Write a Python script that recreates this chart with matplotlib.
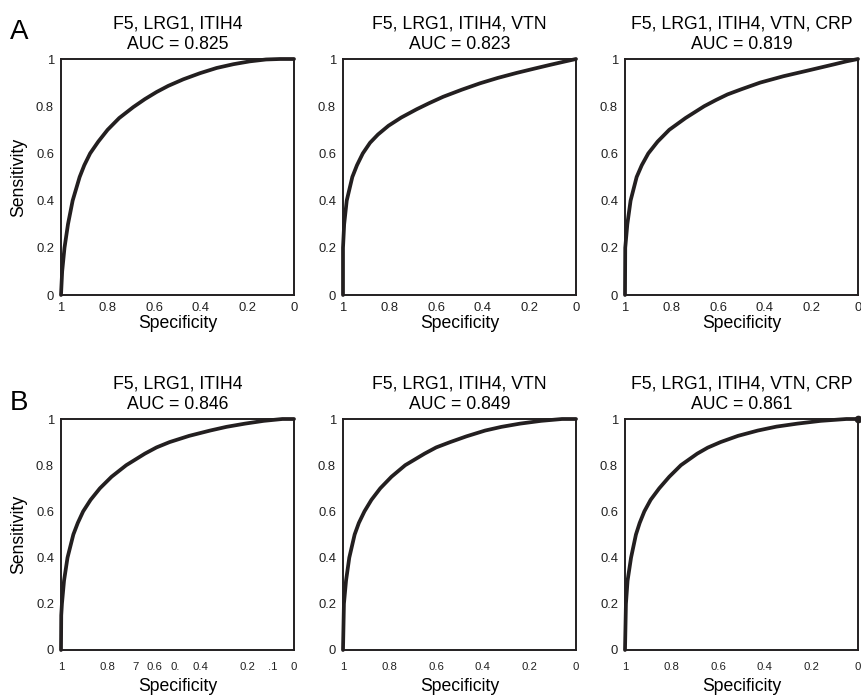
import matplotlib.pyplot as plt
import numpy as np

plt.rcParams['font.family'] = ['Liberation Sans', 'DejaVu Sans']

INK = '#231f20'

titles = ['F5, LRG1, ITIH4', 'F5, LRG1, ITIH4, VTN', 'F5, LRG1, ITIH4, VTN, CRP'] * 2
aucs = ['0.825', '0.823', '0.819', '0.846', '0.849', '0.861']

# curves as (1 - specificity, sensitivity)
fpr_a1 = [0, 0.005, 0.015, 0.03, 0.05, 0.08, 0.1, 0.125, 0.16, 0.2, 0.25, 0.31, 0.36, 0.41, 0.46,
          0.525, 0.597, 0.668, 0.74, 0.81, 0.88, 0.94, 1]
tpr_a1 = [0, 0.1, 0.2, 0.3, 0.4, 0.5, 0.55, 0.6, 0.65, 0.7, 0.75, 0.796, 0.83, 0.86, 0.886,
          0.914, 0.94, 0.962, 0.978, 0.99, 0.998, 1.0, 1]

fpr_a2 = [0, 0, 0.005, 0.016, 0.04, 0.06, 0.085, 0.116, 0.15, 0.195, 0.25, 0.316, 0.37, 0.43,
          0.51, 0.588, 0.665, 0.745, 0.82, 0.888, 0.95, 1]
tpr_a2 = [0, 0.2, 0.3, 0.4, 0.5, 0.55, 0.6, 0.645, 0.68, 0.717, 0.752, 0.787, 0.813, 0.84,
          0.87, 0.897, 0.92, 0.941, 0.959, 0.975, 0.989, 1]

fpr_a3 = [0, 0.001, 0.01, 0.024, 0.05, 0.072, 0.10, 0.14, 0.19, 0.26, 0.34, 0.39, 0.44, 0.5,
          0.58, 0.68, 0.78, 0.84, 0.90, 0.95, 1]
tpr_a3 = [0, 0.2, 0.3, 0.4, 0.5, 0.55, 0.6, 0.65, 0.7, 0.75, 0.8, 0.826, 0.85, 0.872,
          0.9, 0.927, 0.95, 0.964, 0.978, 0.99, 1]

fpr_b1 = [0, 0.001, 0.004, 0.013, 0.028, 0.053, 0.072, 0.095, 0.127, 0.167, 0.217, 0.28, 0.36,
          0.41, 0.466, 0.55, 0.64, 0.71, 0.79, 0.87, 0.95, 1]
tpr_b1 = [0, 0.15, 0.2, 0.3, 0.4, 0.5, 0.55, 0.6, 0.65, 0.7, 0.75, 0.8, 0.85,
          0.877, 0.9, 0.927, 0.95, 0.966, 0.98, 0.992, 1.0, 1]

fpr_b2 = [0, 0.004, 0.013, 0.027, 0.05, 0.068, 0.092, 0.122, 0.16, 0.208, 0.267, 0.35, 0.40,
          0.46, 0.53, 0.61, 0.68, 0.76, 0.85, 0.94, 1]
tpr_b2 = [0, 0.2, 0.3, 0.4, 0.5, 0.55, 0.6, 0.65, 0.7, 0.75, 0.8, 0.85, 0.877,
          0.9, 0.925, 0.95, 0.966, 0.98, 0.992, 1, 1]

fpr_b3 = [0, 0.004, 0.011, 0.026, 0.047, 0.063, 0.083, 0.11, 0.147, 0.19, 0.24, 0.31, 0.355,
          0.41, 0.485, 0.57, 0.65, 0.74, 0.84, 0.95, 1]
tpr_b3 = [0, 0.2, 0.3, 0.4, 0.5, 0.55, 0.6, 0.65, 0.7, 0.75, 0.8, 0.85, 0.876,
          0.9, 0.927, 0.95, 0.967, 0.98, 0.992, 1, 1]

curves = [(fpr_a1, tpr_a1), (fpr_a2, tpr_a2), (fpr_a3, tpr_a3),
          (fpr_b1, tpr_b1), (fpr_b2, tpr_b2), (fpr_b3, tpr_b3)]

ticks = [1, 0.8, 0.6, 0.4, 0.2, 0]
tick_labels = ['1', '0.8', '0.6', '0.4', '0.2', '0']
# first panel of row B has partly hidden labels in the source
odd_ticks = [1, 0.8, 0.68, 0.6, 0.51, 0.4, 0.2, 0.09, 0]
odd_labels = ['1', '0.8', '7', '0.6', '0.', '0.4', '0.2', '.1', '0']

W, H = 862, 696
fig = plt.figure(figsize=(W / 100, H / 100), dpi=100)

lefts = [61, 343, 625]
rows = [(59, 295), (419, 650)]

for k in range(6):
    r, c = divmod(k, 3)
    top, bot = rows[r]
    ax = fig.add_axes([lefts[c] / W, 1 - bot / H, 233 / W, (bot - top) / H])
    fpr, tpr = curves[k]
    spec = 1 - np.array(fpr)
    ax.plot(spec, tpr, color=INK, lw=2.7, solid_joinstyle='round', solid_capstyle='round',
            clip_on=False, zorder=3)
    if k == 5:
        ax.plot([0], [1], 'o', color=INK, ms=4.5, clip_on=False, zorder=4)
    ax.set_xlim(1, 0)
    ax.set_ylim(0, 1)
    for s in ax.spines.values():
        s.set_color(INK)
        s.set_linewidth(1.4)
    ax.set_yticks(ticks)
    ax.set_yticklabels(tick_labels)
    if k == 3:
        ax.set_xticks(odd_ticks)
        ax.set_xticklabels(odd_labels)
    else:
        ax.set_xticks(ticks)
        ax.set_xticklabels(tick_labels)
    ax.tick_params(axis='y', length=0, pad=5, labelsize=9.4, colors='#222222')
    if r == 0:
        ax.tick_params(axis='x', length=0, pad=5, labelsize=9.4, colors='#222222')
        ax.set_xlabel('Specificity', fontsize=12.7, labelpad=1)
    else:
        ax.tick_params(axis='x', length=0, pad=9, labelsize=8.2, colors='#222222')
        ax.set_xlabel('Specificity', fontsize=12.7, labelpad=4)
    ax.set_title(titles[k] + '\nAUC = ' + aucs[k], fontsize=12.7, pad=7, linespacing=1.3)
    if c == 0:
        ax.set_ylabel('Sensitivity', fontsize=12.7, labelpad=6)

fig.text(10 / W, 1 - 39 / H, 'A', fontsize=20)
fig.text(10 / W, 1 - 410 / H, 'B', fontsize=20)

fig.savefig('out.png', dpi=100)
